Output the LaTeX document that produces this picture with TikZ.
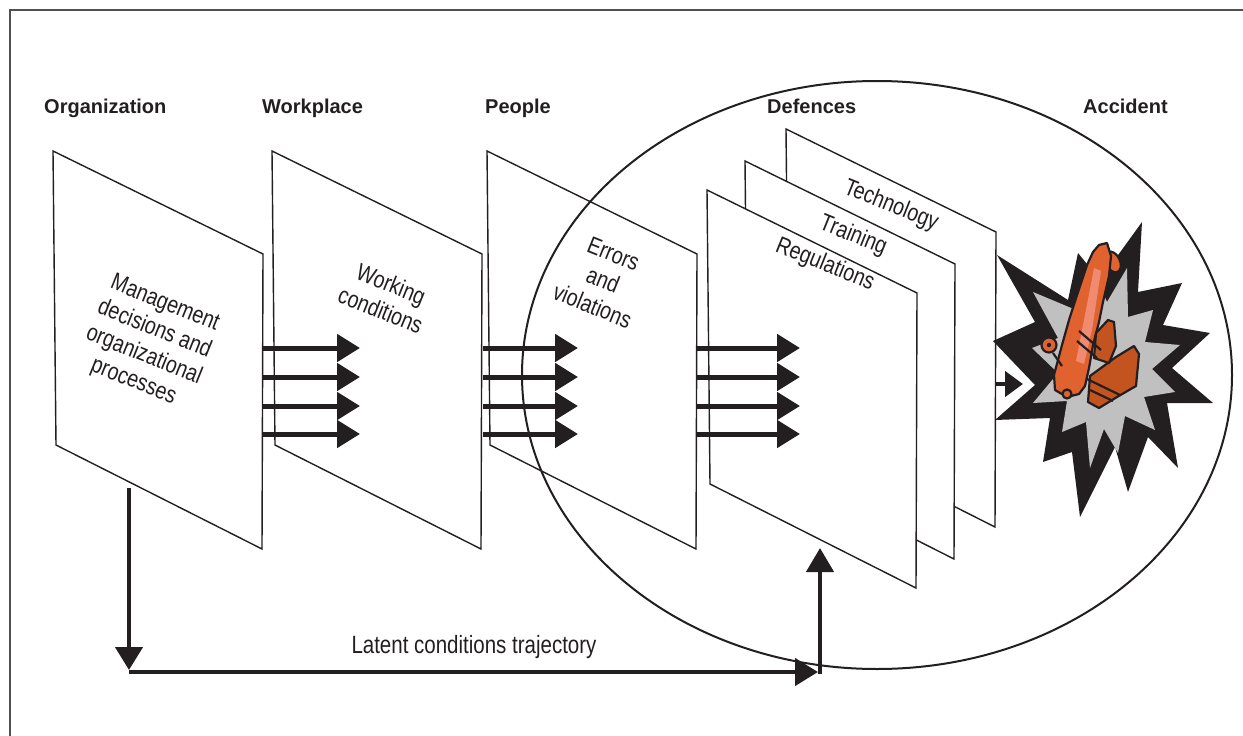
\documentclass[tikz,border=0pt]{standalone}
\usepackage{fontspec}
\setmainfont{Liberation Sans}
\newfontfamily\narrowsans[FakeStretch=0.82]{Liberation Sans}
\usetikzlibrary{arrows.meta}
\definecolor{ink}{HTML}{231F20}
\definecolor{framecol}{HTML}{505050}
\definecolor{boomgray}{HTML}{C0C0C0}
\definecolor{planeor}{HTML}{E0622F}
\definecolor{planedark}{HTML}{C4541F}
\definecolor{planelight}{HTML}{F08A70}
\tikzset{
  hdr/.style={font=\bfseries\fontsize{20}{24}\selectfont, text=ink, inner sep=0pt},
  ptext/.style={font=\narrowsans\fontsize{24}{28}\selectfont, text=ink, align=center, inner sep=0pt},
  panel/.style={draw=ink, line width=1.4pt, line join=miter},
  flow/.style={draw=ink, line width=5pt, -{Triangle[length=23pt,width=27pt]}},
  planepart/.style={draw=ink, line width=2.2pt, line join=round},
}
\newcommand{\panelpath}[2]{(#1,#2) -- ++(210,103) -- ++(-1,295) -- ++(-206,-104) -- cycle}
\begin{document}
\begin{tikzpicture}[x=1pt,y=-1pt]
\useasboundingbox (0,0) rectangle (1243,736);
% frame
\draw[framecol, line width=1.5pt] (10,736) -- (10,10) -- (1243,10);

% ellipse
\draw[ink, line width=2pt] (877,375) ellipse [x radius=355pt, y radius=294pt];

% headers
\node[hdr, anchor=base west] (hOrg) at (44,113) {Organization};
\node[hdr, anchor=base west] (hWork) at (262,113) {Workplace};
\node[hdr, anchor=base west] (hPeople) at (485,113) {People};
\node[hdr, anchor=base west] (hDef) at (767,113) {Defences};
\node[hdr, anchor=base west] (hAcc) at (1083,113) {Accident};

% first three panels
\draw[panel] \panelpath{53}{151};
\draw[panel] \panelpath{272}{151};
\draw[panel] \panelpath{487}{151};

% defence panels
\filldraw[panel, fill=white] \panelpath{786}{129};
\filldraw[panel, fill=white] \panelpath{745}{161};
\filldraw[panel, fill=white] \panelpath{707}{190};

% panel texts
\node[ptext, rotate=-22] (tMgmt) at (149,343) {Management\\decisions and\\organizational\\processes};
\node[ptext, rotate=-22] (tWork) at (386,297) {Working\\conditions};
\node[ptext, rotate=-22] (tErr) at (603,280) {Errors\\and\\violations};
\node[ptext, rotate=-22] (tTech) at (891,206) {Technology};
\node[ptext, rotate=-22] (tTrain) at (853,236) {Training};
\node[ptext, rotate=-22] (tReg) at (825,265) {Regulations};

% flow arrows
\foreach \i/\yy in {1/348,2/377,3/406,4/434}{
  \coordinate (a\i s) at (262,\yy); \coordinate (a\i e) at (360,\yy);
  \coordinate (b\i s) at (483,\yy); \coordinate (b\i e) at (578,\yy);
  \coordinate (c\i s) at (696,\yy); \coordinate (c\i e) at (800,\yy);
  \draw[flow] (a\i s) -- (a\i e);
  \draw[flow] (b\i s) -- (b\i e);
  \draw[flow] (c\i s) -- (c\i e);
}

% explosion
\fill[ink] (993,341) -- (1035,322) -- (997,255) -- (1068,300) -- (1078,253) -- (1100,280)
  -- (1142,222) -- (1138,292) -- (1182,283) -- (1163,325) -- (1210,333) -- (1172,368)
  -- (1213,403) -- (1167,403) -- (1178,468) -- (1148,437) -- (1128,492) -- (1115,447)
  -- (1080,517) -- (1072,452) -- (1043,462) -- (1050,418) -- (995,420) -- (1035,385) -- cycle;
\fill[boomgray] (1032,348) -- (1058,338) -- (1033,292) -- (1076,310) -- (1090,262) -- (1107,302)
  -- (1127,268) -- (1128,317) -- (1153,310) -- (1145,342) -- (1180,345) -- (1152,369)
  -- (1175,392) -- (1144,397) -- (1155,430) -- (1125,416) -- (1118,453) -- (1104,429)
  -- (1090,468) -- (1086,422) -- (1062,432) -- (1067,401) -- (1033,403) -- (1058,373) -- cycle;

% accident arrow
\coordinate (accS) at (996,384);
\coordinate (accE) at (1023,384);
\draw[draw=ink, line width=4.5pt, -{Triangle[length=18pt,width=25pt]}] (accS) -- (accE);

% plane
\filldraw[planepart, fill=planedark] (1090,376) -- (1116,357) -- (1134,346) -- (1139,354) -- (1136,386)
  -- (1117,397) -- (1099,408) -- (1088,402) -- cycle;
\filldraw[planepart, fill=planeor, rotate around={25:(1113,262)}] (1113,262) ellipse [x radius=7pt, y radius=11pt];
\filldraw[planepart, fill=planeor] (1099,245) -- (1107,243) -- (1111,256) -- (1109,276) -- (1103,302)
  -- (1099,322) -- (1093,345) -- (1089,368) -- (1085,386) -- (1079,394) -- (1067,397) -- (1055,390)
  -- (1054,375) -- (1062,345) -- (1069,320) -- (1078,292) -- (1087,265) -- (1093,252) -- cycle;
\fill[planelight] (1094,268) -- (1101,271) -- (1092,330) -- (1084,364) -- (1076,361) -- (1083,325) -- cycle;
\filldraw[planepart, fill=planedark] (1096,333) -- (1108,320) -- (1114,322) -- (1116,346) -- (1109,363)
  -- (1094,358) -- cycle;
\draw[ink, line width=2.2pt] (1079,331) -- (1101,350);
\draw[ink, line width=2.2pt] (1077,341) -- (1097,358);
\draw[ink, line width=2.2pt] (1087,379) -- (1120,395);
\draw[ink, line width=2.2pt] (1090,390) -- (1113,401);
\draw[ink, line width=2.2pt] (1053,353) -- (1062,366);
\filldraw[planepart, fill=planeor] (1049,345) circle (7.5pt);
\fill[ink] (1049,345) circle (2.2pt);
\filldraw[planepart, fill=planeor] (1067,394) circle (4.5pt);

% latent conditions trajectory
\coordinate (latA) at (129,488);
\coordinate (latB) at (129,670);
\coordinate (latC) at (129,672);
\coordinate (latD) at (818,672);
\coordinate (latE) at (820,674);
\coordinate (latF) at (820,548);
\draw[draw=ink, line width=4.5pt, -{Triangle[length=23pt,width=27pt]}] (latA) -- (latB);
\draw[draw=ink, line width=4.5pt, -{Triangle[length=23pt,width=27pt]}] (latC) -- (latD);
\draw[draw=ink, line width=4.5pt, -{Triangle[length=24pt,width=27pt]}] (latE) -- (latF);
\node[ptext, anchor=base, font=\narrowsans\fontsize{25}{28}\selectfont] (tLat) at (474,653) {Latent conditions trajectory};
\end{tikzpicture}
\end{document}
